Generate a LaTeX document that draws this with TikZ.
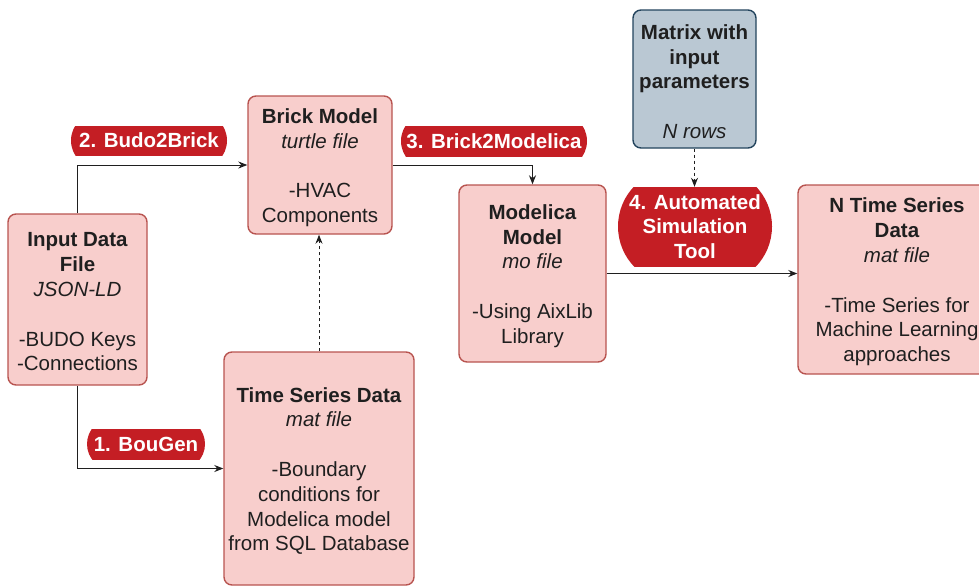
\documentclass[tikz,border=0pt]{standalone}
\usepackage{fontspec}
\setmainfont{Liberation Sans}
\usetikzlibrary{arrows.meta}
\definecolor{boxfill}{HTML}{F8CECC}
\definecolor{boxline}{HTML}{B85450}
\definecolor{bluefill}{HTML}{BAC8D3}
\definecolor{blueline}{HTML}{23445D}
\definecolor{tagred}{HTML}{C41E24}
\definecolor{ink}{HTML}{1F1F1F}
\newcommand{\redtag}[7]{%
  \pgfmathsetmacro{\tagcy}{(#4+#5)/2}%
  \pgfmathsetmacro{\tagcx}{(#2+#3)/2}%
  \begin{scope}
    \clip (#2,#4) rectangle (#3,#5);
    \fill[tagred] ({#2+#6},{\tagcy-#6}) -- ({#3-#6},{\tagcy-#6})
      arc[start angle=-90,end angle=90,radius=#6] -- ({#2+#6},{\tagcy+#6})
      arc[start angle=90,end angle=270,radius=#6] -- cycle;
  \end{scope}
  \node[tagtext, minimum width={#3-#2}, minimum height={#5-#4}] (#1) at (\tagcx,\tagcy) {#7};}
\begin{document}
\begin{tikzpicture}[x=1pt,y=-1pt,
  every node/.style={font=\fontsize{20.5}{24.8}\selectfont, text=ink, align=center, inner sep=0pt},
  box/.style={draw=boxline, fill=boxfill, line width=1.4pt, rounded corners=8pt},
  bluebox/.style={draw=blueline, fill=bluefill, line width=1.4pt, rounded corners=8pt},
  boxtext/.style={yshift=-2.5pt},
  conn/.style={draw=ink, line width=1pt, -{Stealth[length=9pt,width=7pt]}},
  dconn/.style={conn, dash pattern=on 3pt off 3pt},
  tagtext/.style={text=white, font=\fontsize{20.5}{24.8}\selectfont\bfseries}]
\useasboundingbox (0,0) rectangle (979,587);
\clip (0,0) rectangle (979,587);

\node[box, minimum width=139pt, minimum height=171pt] (inp) at (77.5,299.5) {};
\node[boxtext] (inpT) at (inp.center)
  {\textbf{Input Data}\\\textbf{File}\\\textit{JSON-LD}\\~\\-BUDO Keys\\-Connections};
\node[box, minimum width=144pt, minimum height=138pt] (brick) at (320,165) {};
\node[boxtext] (brickT) at (brick.center)
  {\textbf{Brick Model}\\\textit{turtle file}\\~\\-HVAC\\Components};
\node[box, minimum width=190pt, minimum height=233pt] (tsd) at (319,468.5) {};
\node[boxtext] (tsdT) at (tsd.center)
  {\textbf{Time Series Data}\\\textit{mat file}\\~\\-Boundary\\conditions for\\Modelica model\\from SQL Database};
\node[box, minimum width=147pt, minimum height=177pt] (modelica) at (532.5,273.5) {};
\node[boxtext] (modelicaT) at (modelica.center)
  {\textbf{Modelica}\\\textbf{Model}\\\textit{mo file}\\~\\-Using AixLib\\Library};
\node[bluebox, minimum width=123pt, minimum height=138pt] (matrix) at (694.5,79) {};
\node[boxtext] (matrixT) at (matrix.center)
  {\textbf{Matrix with}\\\textbf{input}\\\textbf{parameters}\\~\\\textit{N rows}};
\node[box, minimum width=198pt, minimum height=189pt] (nts) at (897,279.5) {};
\node[boxtext] (ntsT) at (nts.center)
  {\textbf{N Time Series}\\\textbf{Data}\\\textit{mat file}\\~\\-Time Series for\\Machine Learning\\approaches};

\draw[conn] (inp.north) |- (brick.west);
\draw[conn] (inp.south) |- (tsd.west);
\draw[conn] (brick.east) -| (modelica.north);
\draw[dconn] (tsd.north) -- (tsd.north |- brick.south);
\draw[conn] (modelica.east) -- (modelica.east -| nts.west);

\redtag{tagbudo}{71}{227}{126}{155}{28}{2. Budo2Brick}
\redtag{tagbrick}{401}{587}{126}{156}{28}{3. Brick2Modelica}
\redtag{tagbou}{87}{205}{429}{459}{26}{1. BouGen}
\redtag{tool}{618}{772}{187}{266}{58}{4. Automated\\Simulation\\Tool}

\draw[dconn] (matrix.south) -- (matrix.south |- tool.north);
\end{tikzpicture}
\end{document}
